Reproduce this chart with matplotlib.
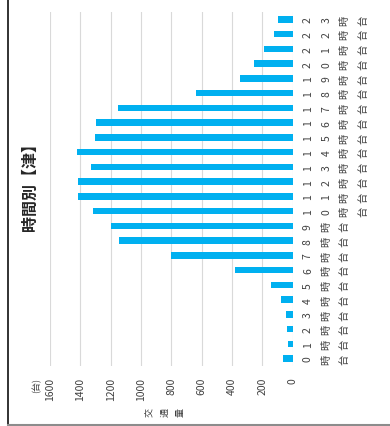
import matplotlib
matplotlib.use("Agg")
import matplotlib.pyplot as plt
from matplotlib.lines import Line2D

plt.rcParams['font.family'] = ['Noto Sans CJK JP', 'DejaVu Sans']

# data (chart is drawn turned 90 degrees, hours run bottom -> top)
hours = list(range(24))
volumes = [65, 32, 38, 43, 76, 144, 380, 800, 1145, 1200, 1316, 1412,
           1412, 1329, 1421, 1303, 1296, 1151, 638, 346, 252, 186, 122, 94]
hour_labels = ["\n".join(list(str(h)) + ["時", "台"]) for h in hours]
value_ticks = [0, 200, 400, 600, 800, 1000, 1200, 1400, 1600]

W, H = 390, 427
BAR_COLOR = "#00b0f0"
TEXT_COLOR = "#404040"


def px(x, y):
    # pixel position (from top-left) -> figure fraction
    return x / W, 1 - y / H


fig = plt.figure(figsize=(W / 100, H / 100), dpi=100)
ax = fig.add_axes([50 / W, (H - 367) / H, (292.5 - 50) / W, (367 - 13) / H])

ax.barh(hours, volumes, height=0.45, color=BAR_COLOR, zorder=3)
ax.set_xlim(1600, 0)
ax.set_ylim(-0.5, 23.5)

ax.set_xticks(value_ticks)
ax.set_xticklabels([str(v) for v in value_ticks])
ax.grid(axis='x', color='#d9d9d9', linewidth=0.8, zorder=0)
ax.tick_params(axis='x', length=0, pad=8, labelrotation=90,
               labelsize=7.5, labelcolor=TEXT_COLOR)

ax.yaxis.tick_right()
ax.set_yticks(hours)
ax.set_yticklabels(hour_labels, rotation=90, ha='left', va='center',
                   multialignment='center', linespacing=2.05)
ax.tick_params(axis='y', length=0, pad=7.5, labelsize=7.5, labelcolor=TEXT_COLOR)

for s in ax.spines.values():
    s.set_visible(False)

# title and axis texts
fig.text(*px(29.5, 183), "時間別【津】", rotation=90, ha='center', va='center',
         fontsize=11.5, fontweight='bold', color='#262626')
fig.text(*px(37, 378), "(台)", rotation=90, ha='center', va='top',
         fontsize=6.5, color=TEXT_COLOR)
fig.text(*px(165, 413), "交\n通\n量", rotation=90, ha='center', va='center',
         fontsize=6.5, color=TEXT_COLOR, linespacing=1.9)

# outer frame pieces
fig.add_artist(Line2D([7.5 / W, 7.5 / W], [0, 1], color='#222222', linewidth=1.3))
fig.add_artist(Line2D([7.5 / W, 1], [1.5 / H, 1.5 / H], color='#8c8c8c', linewidth=1.5))

fig.savefig("out.png", dpi=100)
